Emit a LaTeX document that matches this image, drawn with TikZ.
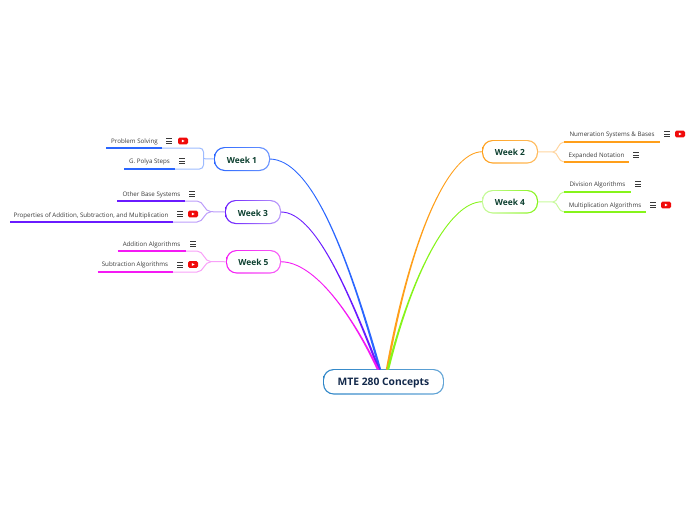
\documentclass[tikz,border=0pt]{standalone}
\usepackage{fontspec}
\setmainfont{Open Sans}
\definecolor{cB}{HTML}{2A66FF}\definecolor{lB}{HTML}{9DBBFF}
\definecolor{cP}{HTML}{6A1BFF}\definecolor{lP}{HTML}{BC9CFA}
\definecolor{cM}{HTML}{F41AF4}\definecolor{lM}{HTML}{F8A0F8}
\definecolor{cO}{HTML}{FF9F1A}\definecolor{lO}{HTML}{FFD5A0}
\definecolor{cG}{HTML}{86F41A}\definecolor{lG}{HTML}{C8FA9C}
\definecolor{cR}{HTML}{2E86C8}\definecolor{lR}{HTML}{A8D0EC}
\definecolor{wkT}{HTML}{0D4030}\definecolor{rootT}{HTML}{13294B}
\definecolor{subT}{HTML}{3A3A3A}\definecolor{ytR}{HTML}{F00A0A}
\tikzset{
  subtext/.style={font=\fontsize{6.2}{7}\selectfont,text=subT,inner sep=0pt},
  weektext/.style={font=\fontsize{8.4}{10}\bfseries\selectfont,text=wkT,inner sep=0pt,fill=white,text height=8.1pt,text depth=0pt},
  roottext/.style={font=\fontsize{10.3}{12}\bfseries\selectfont,text=rootT,inner sep=0pt,fill=white,text height=10.6pt,text depth=2.2pt},
  under/.style={line width=1.8pt},
  branch/.style={line width=1pt},
}
% #1 name, #2 x1, #3 y1, #4 x2, #5 y2, #6 dark, #7 light, #8 text, #9 style
\newcommand{\topicnode}[9]{%
  \shade[left color=#6,right color=#7,rounded corners=10.5pt] (#2,#3) rectangle (#4,#5);
  \node[#9,rounded corners=9.5pt,outer sep=1.2pt,minimum width={#4-#2-2.4},minimum height={#5-#3-2.4}]
    (#1) at ({(#2+#4)/2},{(#3+#5)/2}) {#8};
}
% #1 x, #2 y
\newcommand{\menuicon}[2]{%
  \draw[line width=0.9pt,subT] (#1-3,#2-2.6) -- ++(6,0) (#1-3,#2) -- ++(6,0) (#1-3,#2+2.6) -- ++(6,0);
}
\newcommand{\yticon}[2]{%
  \fill[ytR,rounded corners=1.5pt] (#1-5,#2-3.4) rectangle (#1+5,#2+3.4);
  \fill[white] (#1-1.1,#2-1.4) -- (#1+1.6,#2) -- (#1-1.1,#2+1.4) -- cycle;
}
% tapered main connector: #1 colour, #2 start anchor, #3 control1, #4 control2, #5 end coord, #6 side (1 right-going, -1 left-going)
\newcommand{\mainedge}[6]{%
  \fill[#1] ([yshift=0.45pt]#2) .. controls ([xshift=#6*0.25pt,yshift=0.45pt]#3) and ([xshift=#6*0.7pt]#4) .. ([xshift=#6*1.2pt]#5)
    -- ([xshift=-#6*1.2pt]#5) .. controls ([xshift=-#6*0.7pt]#4) and ([xshift=-#6*0.25pt,yshift=-0.45pt]#3) .. ([yshift=-0.45pt]#2) -- cycle;
}
\begin{document}
\begin{tikzpicture}[x=1pt,y=-1pt]
\useasboundingbox (0,0) rectangle (696,520);
% anchor coordinates at root
\coordinate (rB) at (380,369.5);
\coordinate (rP) at (379,369.5);
\coordinate (rM) at (378,369.5);
\coordinate (rO) at (387,369.5);
\coordinate (rG) at (388,369.5);
% topics
\topicnode{w1}{214}{147}{270}{171}{cB}{cB!70!white}{Week 1}{weektext}
\topicnode{w3}{225}{200}{281}{224}{cP}{lP}{Week 3}{weektext}
\topicnode{w5}{226}{250}{281}{273.5}{cM}{cM!70!white}{Week 5}{weektext}
\topicnode{w2}{482}{140}{538}{163.5}{cO}{cO!70!white}{Week 2}{weektext}
\topicnode{w4}{482}{190}{538}{213.5}{lG}{cG}{Week 4}{weektext}
\topicnode{root}{323}{369}{444}{394.5}{cR}{cR!75!white}{MTE 280 Concepts}{roottext}
% main connectors
\mainedge{cB}{w1.east}{310,160}{345,245}{rB}{1}
\mainedge{cP}{w3.east}{315,212}{348,290}{rP}{1}
\mainedge{cM}{w5.east}{315,262}{352,315}{rM}{1}
\mainedge{cO}{w2.west}{450,152}{412,230}{rO}{-1}
\mainedge{cG}{w4.west}{450,202}{413,270}{rG}{-1}
% sub-topic end coordinates
\coordinate (psL) at (106,148);  \coordinate (psR) at (162,148);
\coordinate (gpL) at (124,169);  \coordinate (gpR) at (175,169);
\coordinate (obL) at (117,201);  \coordinate (obR) at (185,201);
\coordinate (ppL) at (10,222);   \coordinate (ppR) at (173,222);
\coordinate (aaL) at (117.5,251);\coordinate (aaR) at (185.5,251);
\coordinate (saL) at (97.5,272); \coordinate (saR) at (173,272);
\coordinate (nsL) at (564,142);  \coordinate (nsR) at (660,142);
\coordinate (enL) at (564,162);  \coordinate (enR) at (629,162);
\coordinate (daL) at (564,192);  \coordinate (daR) at (631,192);
\coordinate (maL) at (564,212);  \coordinate (maR) at (646,212);
% branches
\draw[branch,lB,rounded corners=4pt] (psR) -- (203.5,148) -- (203.5,169) -- (gpR);
\draw[branch,lB] (203.5,158.7) -- (w1.west);
\draw[branch,lP] (obR) -- (197,201) .. controls (204,201) and (204,211.7) .. (211,211.7) -- (w3.west);
\draw[branch,lP] (ppR) -- (197,222) .. controls (204,222) and (204,211.7) .. (211,211.7);
\draw[branch,lM] (aaR) -- (197,251) .. controls (204,251) and (204,261.7) .. (211,261.7) -- (w5.west);
\draw[branch,lM] (saR) -- (197,272) .. controls (204,272) and (204,261.7) .. (211,261.7);
\draw[branch,lO] (w2.east) -- (553,152) .. controls (558,152) and (558,142) .. (nsL);
\draw[branch,lO] (553,152) .. controls (558,152) and (558,162) .. (enL);
\draw[branch,lG] (w4.east) -- (553,202) .. controls (558,202) and (558,192) .. (daL);
\draw[branch,lG] (553,202) .. controls (558,202) and (558,212) .. (maL);
% underlines
\draw[under,cB] (psL) -- (psR);
\draw[under,cB] (gpL) -- (gpR);
\draw[under,cP] (obL) -- (obR);
\draw[under,cP] (ppL) -- (ppR);
\draw[under,cM] (aaL) -- (aaR);
\draw[under,cM] (saL) -- (saR);
\draw[under,cO] (nsL) -- (nsR);
\draw[under,cO] (enL) -- (enR);
\draw[under,cG] (daL) -- (daR);
\draw[under,cG] (maL) -- (maR);
% texts
\node[subtext] (ps) at (134.5,142) {Problem Solving};
\node[subtext] (gp) at (149.5,162) {G. Polya Steps};
\node[subtext] (ob) at (151.5,194.5) {Other Base Systems};
\node[subtext] (pp) at (91,215.5) {Properties of Addition, Subtraction, and Multiplication};
\node[subtext] (aa) at (151.5,245) {Addition Algorithms};
\node[subtext] (sa) at (135,265) {Subtraction Algorithms};
\node[subtext] (ns) at (612,135) {Numeration Systems \& Bases};
\node[subtext] (en) at (596.5,156) {Expanded Notation};
\node[subtext] (da) at (597.5,185) {Division Algorithms};
\node[subtext] (ma) at (605,206) {Multiplication Algorithms};
% icons
\menuicon{169}{141}\yticon{183}{141}
\menuicon{182}{161}
\menuicon{192}{194}
\menuicon{180}{214}\yticon{193}{214}
\menuicon{193}{244}
\menuicon{180}{265}\yticon{193}{264.5}
\menuicon{667}{134}\yticon{680}{134}
\menuicon{636}{155}
\menuicon{638}{184}
\menuicon{653}{205}\yticon{666}{205}
\end{tikzpicture}
\end{document}
